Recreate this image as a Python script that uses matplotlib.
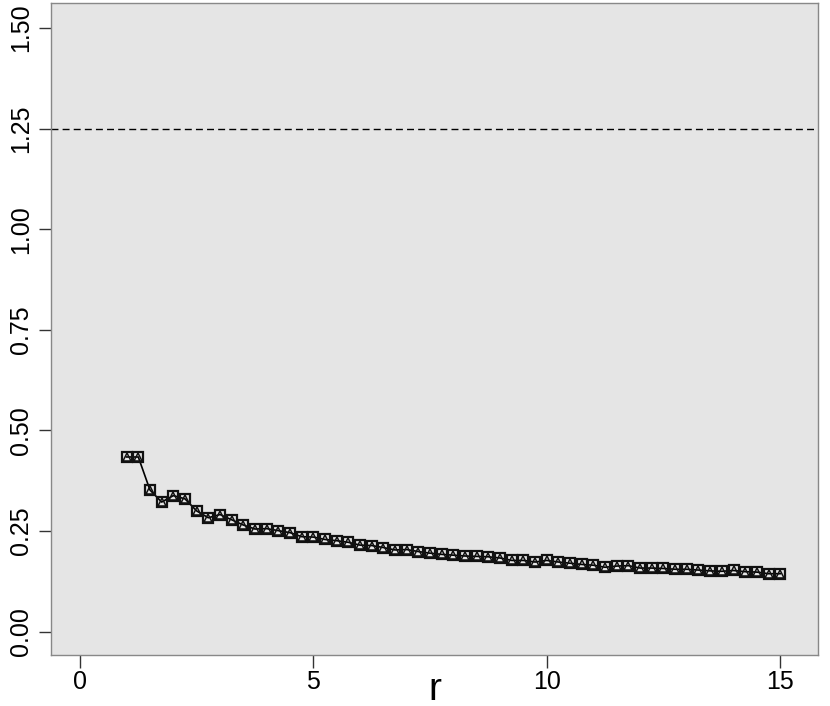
import numpy as np
from matplotlib import pyplot as plt

plt.rcParams['font.family'] = ['Liberation Sans', 'DejaVu Sans']

r = np.arange(1, 15.01, 0.25)
vals = [0.434, 0.434, 0.352, 0.322, 0.338, 0.330, 0.300, 0.283, 0.291, 0.278,
        0.265, 0.255, 0.256, 0.251, 0.246, 0.236, 0.235, 0.229, 0.226, 0.222,
        0.215, 0.214, 0.209, 0.203, 0.204, 0.199, 0.195, 0.192, 0.190, 0.188,
        0.187, 0.186, 0.183, 0.177, 0.177, 0.173, 0.177, 0.173, 0.170, 0.167,
        0.165, 0.160, 0.163, 0.164, 0.158, 0.158, 0.157, 0.155, 0.155, 0.153,
        0.151, 0.150, 0.152, 0.149, 0.148, 0.144, 0.144]
ref_level = 1.25

xticks = [0, 5, 10, 15]
yticks = [0.0, 0.25, 0.5, 0.75, 1.0, 1.25, 1.5]

fig = plt.figure(figsize=(8.3, 7.06), dpi=100)
ax = fig.add_axes([51/830, 1 - 655/706, 767/830, 652/706])
ax.set_facecolor('#e5e5e5')

ax.axhline(ref_level, color='black', lw=1, ls=(0, (5, 3)))
ax.plot(r, vals, color='black', lw=1.2, zorder=2)
ax.plot(r, vals, ls='none', marker='s', ms=7.5, mfc='none', mec='#111111', mew=1.6, zorder=3)
ax.plot(r, vals, ls='none', marker='^', ms=5.5, mfc='none', mec='#111111', mew=1.1, zorder=3)

ax.set_xlim(-0.62, 15.81)
ax.set_ylim(-0.058, 1.562)
ax.set_xticks(xticks)
ax.set_xticklabels([str(t) for t in xticks], fontsize=18)
ax.set_yticks(yticks)
ax.set_yticklabels(['%.2f' % t for t in yticks], fontsize=18, rotation=90, va='center')
ax.tick_params(direction='out', length=9, width=1, color='#333333', pad=4)
ax.tick_params(axis='x', pad=2)
for s in ax.spines.values():
    s.set_color('#888888')
    s.set_linewidth(1)

# axis title sits low, near the bottom edge
fig.text(435/830, 6/706, 'r', fontsize=28, ha='center', va='baseline')

fig.savefig('out.png', dpi=100)
